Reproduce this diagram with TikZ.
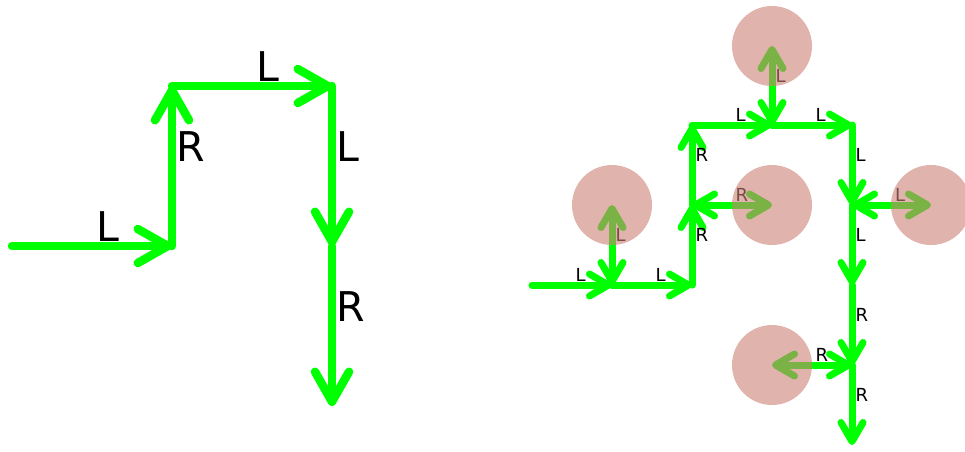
\documentclass[tikz,border=0pt]{standalone}
\usepackage{fontspec}
\setmainfont{DejaVu Sans}
\usetikzlibrary{arrows.meta}
\definecolor{lime}{RGB}{0,255,0}
\definecolor{blob}{RGB}{204,128,118}
\begin{document}
\begin{tikzpicture}[x=1pt,y=-1pt,
  bigtip/.tip={Straight Barb[length=30pt,width=34pt,round]},
  smalltip/.tip={Straight Barb[length=19pt,width=22pt,round]},
  bigarr/.style={draw=lime, line width=8.5pt, line cap=round, -bigtip},
  smallarr/.style={draw=lime, line width=7pt, line cap=round, -smalltip},
  dblarr/.style={draw=lime, line width=7pt, line cap=round, smalltip-smalltip},
  biglab/.style={anchor=south west, inner sep=0pt, text=black, font=\fontsize{41}{41}\selectfont},
  smalllab/.style={anchor=south west, inner sep=0pt, text=black, font=\fontsize{18}{18}\selectfont},
  blobstyle/.style={circle, fill=blob, fill opacity=0.6, draw=none, minimum size=80pt, inner sep=0pt}
]
\useasboundingbox (0,0) rectangle (965,451);
% left diagram
\coordinate (A0) at (12,246);
\coordinate (A1) at (172,246);
\coordinate (A2) at (172,86);
\coordinate (A3) at (332,86);
\coordinate (A4) at (332,246);
\coordinate (A5) at (332,406);
\draw[bigarr] (A0) -- node[biglab]{L} (A1);
\draw[bigarr] (A1) -- node[biglab]{R} (A2);
\draw[bigarr] (A2) -- node[biglab]{L} (A3);
\draw[bigarr] (A3) -- node[biglab]{L} (A4);
\draw[bigarr] (A4) -- node[biglab]{R} (A5);
% right diagram
\coordinate (B0) at (532,285);
\coordinate (B1) at (612,285);
\coordinate (B2) at (692,285);
\coordinate (B3) at (692,205);
\coordinate (B4) at (692,125);
\coordinate (B5) at (772,125);
\coordinate (B6) at (852,125);
\coordinate (B7) at (852,205);
\coordinate (B8) at (852,285);
\coordinate (B9) at (852,365);
\coordinate (B10) at (852,445);
\coordinate (C1) at (612,205);
\coordinate (C2) at (772,205);
\coordinate (C3) at (772,46);
\coordinate (C4) at (931,205);
\coordinate (C5) at (772,365);
\draw[smallarr] (B0) -- node[smalllab]{L} (B1);
\draw[smallarr] (B1) -- node[smalllab]{L} (B2);
\draw[smallarr] (B2) -- node[smalllab]{R} (B3);
\draw[smallarr] (B3) -- node[smalllab]{R} (B4);
\draw[smallarr] (B4) -- node[smalllab]{L} (B5);
\draw[smallarr] (B5) -- node[smalllab]{L} (B6);
\draw[smallarr] (B6) -- node[smalllab]{L} (B7);
\draw[smallarr] (B7) -- node[smalllab]{L} (B8);
\draw[smallarr] (B8) -- node[smalllab]{R} (B9);
\draw[smallarr] (B9) -- node[smalllab]{R} (B10);
% branches
\draw[dblarr] (B1) -- node[smalllab]{L} (C1);
\draw[dblarr] (B3) -- node[smalllab]{R} (C2);
\draw[dblarr] (B5) -- node[smalllab]{L} (C3);
\draw[dblarr] (B7) -- node[smalllab]{L} (C4);
\draw[dblarr] (B9) -- node[smalllab]{R} (C5);
% translucent circles on top
\node[blobstyle] (c1) at (C1) {};
\node[blobstyle] (c2) at (C2) {};
\node[blobstyle] (c3) at (C3) {};
\node[blobstyle] (c4) at (C4) {};
\node[blobstyle] (c5) at (C5) {};
\end{tikzpicture}
\end{document}
